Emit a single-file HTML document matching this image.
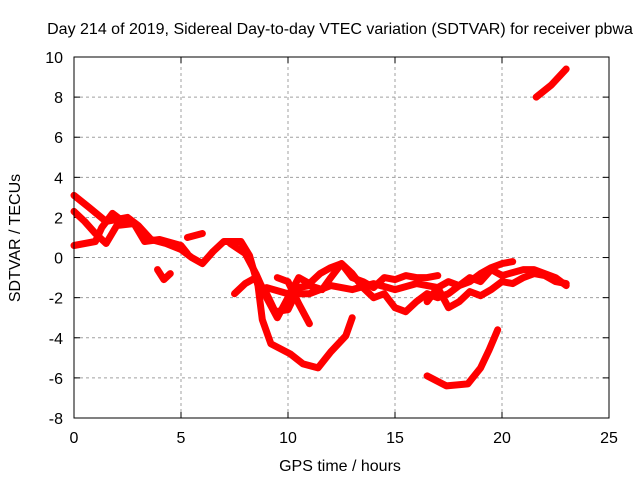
<!DOCTYPE html>
<html><head><meta charset="utf-8"><style>
body{margin:0;background:#fff}
svg text{font-family:"Liberation Sans",sans-serif;font-size:16px;fill:#000}
</style></head><body>
<svg id="c" width="640" height="480">
<text x="340" y="34" text-anchor="middle">Day 214 of 2019, Sidereal Day-to-day VTEC variation (SDTVAR) for receiver pbwa</text>
<text x="340" y="471" text-anchor="middle">GPS time / hours</text>
<text transform="translate(20,238) rotate(-90)" text-anchor="middle">SDTVAR / TECUs</text>
<g id="grid"></g><g id="ticks"></g><g id="series"></g>
<rect x="74" y="57" width="535" height="361" fill="none" stroke="#000" stroke-width="1"/>
</svg>
<script>
const xTicks=[0,5,10,15,20,25];
const yTicks=[-8,-6,-4,-2,0,2,4,6,8,10];
const t1=[[0,3.1],[0.7,2.5],[1.5,1.8],[2,1.9],[2.5,2.0],[3,1.6],[3.6,0.9],[4.3,0.7],[5,0.4],[5.5,0],[6,-0.3],[6.5,0.3],[7,0.8],[7.8,0.8],[8.2,0.1],[8.6,-1.4],[8.8,-3.1],[9.2,-4.3],[10.1,-4.8],[10.7,-5.3],[11.4,-5.5],[12,-4.7],[12.7,-3.9],[13,-3.0]];
const t2=[[0,2.3],[0.5,1.8],[1,1.2],[1.5,0.7],[2,1.6],[2.8,1.7],[3.3,0.8],[4,0.9],[5,0.6],[5.3,0.2]];
const t3=[[0,0.6],[0.5,0.7],[1,0.8],[1.3,1.5],[1.8,2.2],[2.3,1.8]];
const t4=[[3.9,-0.6],[4.2,-1.1],[4.5,-0.8]];
const t5=[[5.3,1.0],[6.0,1.2]];
const t6=[[7.5,-1.8],[8,-1.3],[8.5,-1.0],[9,-1.8],[9.4,-2.7],[10,-2.6],[10.5,-1.5],[11,-1.4],[11.6,-1.6],[12,-1.0],[12.5,-0.3],[13,-0.8],[13.5,-1.5],[14,-2.0],[14.5,-1.8],[15,-2.5],[15.5,-2.7],[16,-2.2],[16.5,-1.8],[17,-2.0],[17.5,-1.8],[18,-1.4],[18.5,-1.2],[19,-0.8],[19.5,-0.5],[20,-0.3],[20.5,-0.2]];
const t7=[[7.3,0.7],[8,0.2],[8.5,-0.8],[9,-2.0],[9.5,-3.0],[10,-2.0],[10.5,-1.0],[11,-1.3],[11.5,-0.8],[12,-0.5],[12.5,-0.3],[13,-1.0],[13.5,-1.2],[14,-1.5],[14.5,-1.0],[15,-1.1],[15.5,-0.9],[16,-1.0],[16.5,-1.0],[17,-0.9]];
const t8=[[9.5,-1.0],[10,-1.2],[10.5,-2.3],[11,-3.3]];
const t9=[[9,-1.5],[10,-1.8],[11,-1.8],[12,-1.4],[13,-1.6],[14,-1.3],[15,-1.6],[16,-1.3],[17,-1.5],[17.5,-2.5],[18,-2.2],[18.5,-1.7],[19,-1.9],[19.5,-1.6],[20,-1.2],[20.5,-1.3],[21,-1.0],[21.5,-0.8],[22,-0.9],[22.5,-1.2],[23,-1.3]];
const t10=[[16.5,-2.2],[17,-1.5],[17.5,-1.2],[18,-1.4],[18.5,-1.0],[19,-1.2],[19.5,-0.6],[20,-0.9],[21,-0.6],[21.5,-0.6],[22,-0.8],[22.5,-1.0],[23,-1.4]];
const t11=[[16.5,-5.9],[17.4,-6.4],[18.4,-6.3],[19,-5.5],[19.4,-4.6],[19.8,-3.6]];
const t12=[[21.6,8.0],[22.3,8.6],[23,9.4]];
const allSeries=[t1,t2,t3,t4,t5,t6,t7,t8,t9,t10,t11,t12];
const X0=74,X1=609,Y0=418,Y1=57,xmin=0,xmax=25,ymin=-8,ymax=10;
function sx(v){return X0+(v-xmin)/(xmax-xmin)*(X1-X0);}
function sy(v){return Y0-(v-ymin)/(ymax-ymin)*(Y0-Y1);}
const NS="http://www.w3.org/2000/svg";
function mk(t,a,p){const e=document.createElementNS(NS,t);for(const k in a)e.setAttribute(k,a[k]);p.appendChild(e);return e;}
const grid=document.getElementById('grid'),ticks=document.getElementById('ticks'),ser=document.getElementById('series');
xTicks.forEach(v=>{const x=sx(v);
 if(v>xmin&&v<xmax){const g=mk('line',{x1:x,x2:x,y1:Y0,y2:Y1,stroke:'#a0a0a0','stroke-dasharray':'3,3'},grid);
 
 }
 const l=mk('line',{x1:x,x2:x,y1:Y0,y2:Y0-6,stroke:'#000'},ticks);
 
 
 const l2=mk('line',{x1:x,x2:x,y1:Y1,y2:Y1+6,stroke:'#000'},ticks);
 
 
 const t=mk('text',{x:x,y:Y0+25,'text-anchor':'middle'},ticks);t.textContent=v;
 
 });
yTicks.forEach(v=>{const y=sy(v);
 if(v>ymin&&v<ymax){const g=mk('line',{x1:X0,x2:X1,y1:y,y2:y,stroke:'#a0a0a0','stroke-dasharray':'3,3'},grid);
 
 }
 const l=mk('line',{x1:X0,x2:X0+6,y1:y,y2:y,stroke:'#000'},ticks);
 
 
 const l2=mk('line',{x1:X1,x2:X1-6,y1:y,y2:y,stroke:'#000'},ticks);
 
 
 const t=mk('text',{x:X0-11,y:y+6,'text-anchor':'end'},ticks);t.textContent=v;
 
 });
allSeries.forEach((s,i)=>{
 const p=mk('polyline',{points:s.map(d=>sx(d[0]).toFixed(1)+','+sy(d[1]).toFixed(1)).join(' '),fill:'none',stroke:'#ff0000','stroke-width':7,'stroke-linejoin':'round','stroke-linecap':'round'},ser);
 
 
});
</script>
</body></html>
